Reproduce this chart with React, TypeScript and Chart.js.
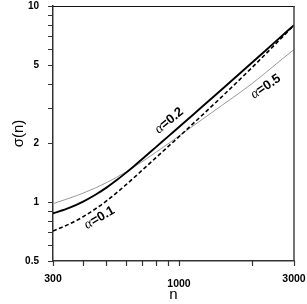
import React, { useEffect, useRef } from 'react';
import { Chart, registerables } from 'chart.js';

Chart.register(...registerables);

// ---- data ----
const nValues = [300, 350, 400, 450, 500, 550, 600, 650, 700, 800, 900, 1000, 1200, 1500, 2000, 2500, 3000];
const sigmaAlpha01 = [0.711, 0.771, 0.841, 0.923, 1.012, 1.112, 1.219, 1.33, 1.445, 1.678, 1.915, 2.154, 2.652, 3.431, 4.826, 6.35, 7.99];
const sigmaAlpha02 = [0.875, 0.933, 1.005, 1.089, 1.184, 1.29, 1.404, 1.523, 1.647, 1.9, 2.156, 2.413, 2.938, 3.74, 5.116, 6.54, 7.99];
const sigmaAlpha05 = [0.98, 1.045, 1.11, 1.18, 1.255, 1.335, 1.42, 1.51, 1.6, 1.79, 1.98, 2.17, 2.55, 3.1, 4.0, 5.0, 6.0];

const xTickValues = [300, 400, 500, 600, 700, 800, 900, 1000, 2000, 3000];
const yTickValues = [0.5, 0.6, 0.7, 0.8, 0.9, 1, 2, 3, 4, 5, 6, 7, 8, 9, 10];
const yLabelValues = [0.5, 1, 2, 5, 10];
const xLabelValues = [300, 1000, 3000];
const xLowered = [1000];

// curve annotations (alpha value, anchor in data coords, angle)
const curveAlpha = ['0.1', '0.2', '0.5'];
const curveLabelN = [468, 910, 2289];
const curveLabelSigma = [0.831, 2.6, 3.88];
const curveLabelAngle = [-30, -39, -34];

const FONT = '"Liberation Sans", Arial, sans-serif';
const AXIS_COLOR = '#333';
const TICK_LEN = 5;

const framePlugin = {
  id: 'frame',
  afterDraw(chart: any) {
    const { ctx, chartArea: a, scales } = chart;
    ctx.save();
    // tick marks from the library's own ticks
    ctx.strokeStyle = AXIS_COLOR;
    ctx.lineWidth = 1.2;
    ctx.beginPath();
    for (const t of scales.x.ticks) {
      const px = Math.round(scales.x.getPixelForValue(t.value)) + 0.5;
      ctx.moveTo(px, a.bottom);
      ctx.lineTo(px, a.bottom + TICK_LEN);
    }
    for (const t of scales.y.ticks) {
      const py = Math.round(scales.y.getPixelForValue(t.value)) + 0.5;
      ctx.moveTo(a.left - TICK_LEN, py);
      ctx.lineTo(a.left, py);
    }
    ctx.stroke();
    // top and right frame
    ctx.strokeStyle = '#111';
    ctx.lineWidth = 1.2;
    ctx.beginPath();
    ctx.moveTo(a.left, a.top + 0.5);
    ctx.lineTo(a.right + 1, a.top + 0.5);
    ctx.stroke();
    ctx.strokeStyle = '#444';
    ctx.lineWidth = 1.5;
    ctx.beginPath();
    ctx.moveTo(a.right, a.top);
    ctx.lineTo(a.right, a.bottom);
    ctx.stroke();
    ctx.restore();
  },
};

const curveLabelPlugin = {
  id: 'curveLabels',
  afterDatasetsDraw(chart: any) {
    const { ctx, scales } = chart;
    ctx.save();
    ctx.fillStyle = '#000';
    ctx.textBaseline = 'middle';
    ctx.textAlign = 'left';
    const aFont = 'italic 14px "Liberation Serif", serif';
    const rFont = 'bold 13px ' + FONT;
    for (let i = 0; i < curveAlpha.length; i++) {
      const x = scales.x.getPixelForValue(curveLabelN[i]);
      const y = scales.y.getPixelForValue(curveLabelSigma[i]);
      const rest = '=' + curveAlpha[i];
      ctx.save();
      ctx.translate(x, y);
      ctx.rotate((curveLabelAngle[i] * Math.PI) / 180);
      ctx.font = aFont;
      const wa = ctx.measureText('α').width;
      ctx.font = rFont;
      const wr = ctx.measureText(rest).width;
      const start = -(wa + wr) / 2;
      ctx.font = aFont;
      ctx.fillText('α', start, 0);
      ctx.font = rFont;
      ctx.fillText(rest, start + wa, 0);
      ctx.restore();
    }
    ctx.restore();
  },
};

export default function App() {
  const ref = useRef<HTMLCanvasElement>(null);

  useEffect(() => {
    if (!ref.current) return;
    const mk = (ys: number[]) => nValues.map((n, i) => ({ x: n, y: ys[i] }));
    const gridOpts = { display: false, drawOnChartArea: false, drawTicks: true, tickLength: TICK_LEN };
    const chart = new Chart(ref.current, {
      type: 'line',
      data: {
        datasets: [
          {
            label: 'α=0.2',
            data: mk(sigmaAlpha02),
            borderColor: '#000',
            borderWidth: 1.9,
            pointRadius: 0,
            cubicInterpolationMode: 'monotone',
          },
          {
            label: 'α=0.1',
            data: mk(sigmaAlpha01),
            borderColor: '#000',
            borderWidth: 1.6,
            borderDash: [4, 2.5],
            pointRadius: 0,
            cubicInterpolationMode: 'monotone',
          },
          {
            label: 'α=0.5',
            data: mk(sigmaAlpha05),
            borderColor: '#9a9a9a',
            borderWidth: 1,
            pointRadius: 0,
            cubicInterpolationMode: 'monotone',
          },
        ],
      },
      options: {
        animation: false,
        responsive: false,
        devicePixelRatio: 1,
        layout: { padding: { left: 0, top: 6, right: 13, bottom: 0 } },
        plugins: { legend: { display: false }, tooltip: { enabled: false } },
        scales: {
          x: {
            type: 'logarithmic',
            position: 'bottom',
            min: 300,
            max: 3000,
            afterBuildTicks: (s: any) => {
              s.ticks = xTickValues.map((v) => ({ value: v }));
            },
            afterFit: (s: any) => {
              s.height = 43;
              s.paddingLeft = 0;
              s.paddingRight = 0;
            },
            grid: gridOpts,
            border: { display: true, color: AXIS_COLOR, width: 1.5 },
            ticks: {
              autoSkip: false,
              maxRotation: 0,
              minRotation: 0,
              padding: 11,
              color: '#000',
              font: { family: FONT, size: 10.5, weight: 'bold', lineHeight: '5px' },
              callback: (v: any) => {
                const r = Math.round(Number(v));
                if (!xLabelValues.includes(r)) return '';
                return xLowered.includes(r) ? ['', String(r)] : String(r);
              },
            },
            title: {
              display: true,
              text: 'n',
              color: '#000',
              font: { family: FONT, size: 15 },
              padding: { top: 0, bottom: 0 },
            },
          },
          y: {
            type: 'logarithmic',
            position: 'left',
            min: 0.5,
            max: 10,
            afterBuildTicks: (s: any) => {
              s.ticks = yTickValues.map((v) => ({ value: v }));
            },
            afterFit: (s: any) => {
              s.width = 53;
              s.paddingTop = 0;
              s.paddingBottom = 0;
            },
            grid: gridOpts,
            border: { display: true, color: AXIS_COLOR, width: 1.5 },
            ticks: {
              autoSkip: false,
              padding: 9,
              color: '#000',
              font: { family: FONT, size: 10, weight: 'bold' },
              callback: (v: any) => {
                const num = Number(v);
                const hit = yLabelValues.find((t) => Math.abs(t - num) < 1e-6);
                return hit !== undefined ? String(hit) : '';
              },
            },
            title: {
              display: true,
              text: 'σ(n)',
              color: '#000',
              font: { family: FONT, size: 15 },
              padding: { top: 10, bottom: 0 },
            },
          },
        },
      },
      plugins: [framePlugin, curveLabelPlugin],
    } as any);
    return () => chart.destroy();
  }, []);

  return (
    <div style={{ position: 'fixed', left: 0, top: 0, width: 307, height: 304, background: '#fff' }}>
      <canvas ref={ref} width={307} height={304} />
    </div>
  );
}
